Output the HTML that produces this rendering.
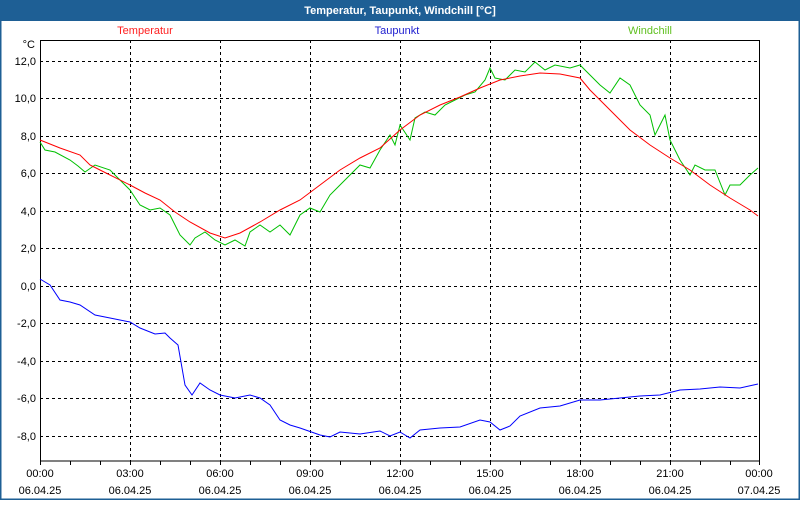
<!DOCTYPE html>
<html><head><style>
body{margin:0;width:800px;height:500px;overflow:hidden;background:#fff;font-family:"Liberation Sans",sans-serif}
</style></head><body>
<svg width="800" height="500" xmlns="http://www.w3.org/2000/svg" font-family="Liberation Sans, sans-serif" font-size="11">
<rect x="0" y="0" width="800" height="500" fill="#fff"/>
<rect x="0.5" y="0.5" width="799" height="499" fill="none" stroke="#1e5f95" stroke-width="2"/>
<rect x="0" y="0" width="800" height="21" fill="#1e5f95"/>
<text x="400" y="14" fill="#fff" font-weight="bold" text-anchor="middle">Temperatur, Taupunkt, Windchill [°C]</text>
<text x="145" y="34" fill="#ff2020" text-anchor="middle">Temperatur</text>
<text x="397" y="34" fill="#2020d0" text-anchor="middle">Taupunkt</text>
<text x="650" y="34" fill="#60c020" text-anchor="middle">Windchill</text>
<text x="35" y="48" text-anchor="end" fill="#000">°C</text>
<g stroke="#000" stroke-width="1" stroke-dasharray="3,3">
<line x1="40" x2="760" y1="61.5" y2="61.5"/><line x1="40" x2="760" y1="98.5" y2="98.5"/><line x1="40" x2="760" y1="136.5" y2="136.5"/><line x1="40" x2="760" y1="173.5" y2="173.5"/><line x1="40" x2="760" y1="211.5" y2="211.5"/><line x1="40" x2="760" y1="248.5" y2="248.5"/><line x1="40" x2="760" y1="286.5" y2="286.5"/><line x1="40" x2="760" y1="323.5" y2="323.5"/><line x1="40" x2="760" y1="361.5" y2="361.5"/><line x1="40" x2="760" y1="398.5" y2="398.5"/><line x1="40" x2="760" y1="436.5" y2="436.5"/>
<line x1="130.5" x2="130.5" y1="40" y2="461"/><line x1="220.5" x2="220.5" y1="40" y2="461"/><line x1="310.5" x2="310.5" y1="40" y2="461"/><line x1="400.5" x2="400.5" y1="40" y2="461"/><line x1="490.5" x2="490.5" y1="40" y2="461"/><line x1="580.5" x2="580.5" y1="40" y2="461"/><line x1="670.5" x2="670.5" y1="40" y2="461"/>
</g>
<rect x="40.5" y="40.5" width="719" height="420.5" fill="none" stroke="#000"/>
<g stroke="#000">
<path d="M40.5 461v4M70.5 461v4M100.5 461v4M130.5 461v4M160.5 461v4M190.5 461v4M220.5 461v4M250.5 461v4M280.5 461v4M310.5 461v4M340.5 461v4M370.5 461v4M400.5 461v4M430.5 461v4M460.5 461v4M490.5 461v4M520.5 461v4M550.5 461v4M580.5 461v4M610.5 461v4M640.5 461v4M670.5 461v4M700.5 461v4M730.5 461v4M759.5 461v4"/>
</g>
<g text-anchor="end" fill="#000">
<text x="36" y="65">12,0</text><text x="36" y="102">10,0</text><text x="36" y="140">8,0</text><text x="36" y="177">6,0</text><text x="36" y="215">4,0</text><text x="36" y="252">2,0</text><text x="36" y="290">0,0</text><text x="36" y="327">-2,0</text><text x="36" y="365">-4,0</text><text x="36" y="402">-6,0</text><text x="36" y="440">-8,0</text>
</g>
<g text-anchor="middle" fill="#000">
<text x="40" y="477">00:00</text><text x="40" y="494">06.04.25</text>
<text x="130" y="477">03:00</text><text x="130" y="494">06.04.25</text>
<text x="220" y="477">06:00</text><text x="220" y="494">06.04.25</text>
<text x="310" y="477">09:00</text><text x="310" y="494">06.04.25</text>
<text x="400" y="477">12:00</text><text x="400" y="494">06.04.25</text>
<text x="490" y="477">15:00</text><text x="490" y="494">06.04.25</text>
<text x="580" y="477">18:00</text><text x="580" y="494">06.04.25</text>
<text x="670" y="477">21:00</text><text x="670" y="494">06.04.25</text>
<text x="759" y="477">00:00</text><text x="759" y="494">07.04.25</text>
</g>
<polyline fill="none" stroke="#00c000" stroke-width="1" points="40,142 45,150 55,152 70,160 78,166 85,172 95,165 110,170 120,180 130,190 140,205 150,210 160,208 170,215 180,235 190,245 195,238 205,232 215,240 225,245 235,240 245,246 250,232 260,225 270,232 280,225 290,235 300,215 310,208 320,212 330,195 340,185 350,175 360,165 370,168 380,150 390,135 395,145 400,125 410,140 415,118 425,112 435,115 445,105 455,100 465,95 475,92 485,80 490,68 495,78 505,80 515,70 525,72 535,62 545,70 555,65 570,68 580,65 590,75 600,85 610,93 620,78 630,85 640,105 650,115 655,135 660,125 665,115 670,140 680,160 690,175 695,165 705,170 715,170 725,195 730,185 740,185 750,175 758,168"/>
<polyline fill="none" stroke="#ff0000" stroke-width="1" points="40,140 60,148 80,155 90,165 100,170 130,185 145,193 160,200 175,212 190,222 210,233 225,238 240,233 260,222 280,210 300,200 320,185 340,170 360,158 380,148 400,130 420,115 440,105 460,97 480,88 500,80 520,76 540,73 560,74 580,78 590,90 610,110 630,130 650,145 670,158 690,170 710,185 730,198 750,210 758,216"/>
<polyline fill="none" stroke="#0000ff" stroke-width="1" points="40,279 50,285 60,300 70,302 80,305 95,315 110,318 130,322 140,328 155,334 165,333 170,338 178,345 185,385 192,395 200,383 210,390 220,395 235,398 250,395 260,398 270,405 280,420 290,425 300,428 320,435 330,437 340,432 360,434 380,431 390,436 400,432 410,438 420,430 440,428 460,427 480,420 490,422 500,430 510,426 520,416 540,408 560,406 580,400 600,400 620,398 640,396 660,395 680,390 700,389 720,387 740,388 758,384"/>
</svg>
</body></html>
